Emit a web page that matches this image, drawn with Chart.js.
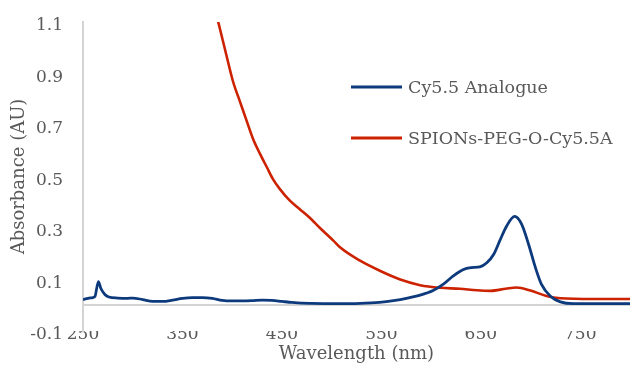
<!DOCTYPE html>
<html>
<head>
<meta charset="utf-8">
<script src="https://cdn.jsdelivr.net/npm/chart.js@4/dist/chart.umd.min.js"></script>
<style>
  html, body { margin: 0; padding: 0; background: #fff; }
  canvas { display: block; }
</style>
</head>
<body>
<canvas id="chart" width="634" height="368"></canvas>
<script>
/* UV-vis spectra */
var seriesNames = ['Cy5.5 Analogue', 'SPIONs-PEG-O-Cy5.5A'];

var cyNm  = [250, 255, 260, 262, 265.5, 268, 272, 276, 285, 295, 300, 310, 320, 330, 340, 350, 360, 370, 380, 390,
             400, 410, 420, 430, 440, 450, 460, 470, 480, 500, 520, 540, 555, 569, 589, 602, 612, 622, 632, 640,
             649, 656, 663, 669, 676, 684, 691, 698, 705, 711, 720, 730, 743, 800];
var cyAbs = [0.022, 0.027, 0.030, 0.034, 0.092, 0.065, 0.042, 0.032, 0.028, 0.027, 0.028, 0.022, 0.015, 0.015, 0.020, 0.027, 0.030, 0.030, 0.027, 0.019,
             0.017, 0.017, 0.018, 0.020, 0.019, 0.015, 0.011, 0.008, 0.007, 0.006, 0.006, 0.009, 0.014, 0.022, 0.039, 0.057, 0.081, 0.113, 0.138, 0.146,
             0.149, 0.165, 0.198, 0.250, 0.308, 0.345, 0.315, 0.237, 0.145, 0.081, 0.035, 0.013, 0.006, 0.006];

var spNm  = [375, 386, 395, 401, 408, 415, 421, 428, 435, 441, 448, 458, 468, 478, 488, 502, 509, 529, 549, 569,
             589, 609, 629, 646, 660, 675, 686, 700, 716, 730, 763, 800];
var spAbs = [1.26, 1.10, 0.958, 0.867, 0.789, 0.711, 0.646, 0.588, 0.535, 0.490, 0.451, 0.406, 0.373, 0.340, 0.301, 0.250, 0.223, 0.172, 0.133, 0.100,
             0.078, 0.068, 0.064, 0.058, 0.056, 0.064, 0.069, 0.057, 0.036, 0.027, 0.024, 0.024];

var xTicks = [250, 350, 450, 550, 650, 750];
var yTicks = [-0.1, 0, 0.1, 0.3, 0.5, 0.7, 0.9, 1.1];

var BLUE = '#0d3a7c', RED = '#cc2200', TXT = '#595959', AXIS = '#d4d4d4';
var FONT = 'DejaVu Serif';

function pts(xs, ys) { return xs.map(function (x, i) { return { x: x, y: ys[i] }; }); }

/* legend on the right side of the plot, drawn on the canvas */
var sideLegend = {
  id: 'sideLegend',
  afterDraw: function (chart) {
    var ctx = chart.ctx;
    ctx.save();
    ctx.font = '17.5px "' + FONT + '"';
    ctx.textBaseline = 'middle';
    ctx.textAlign = 'left';
    chart.data.datasets.forEach(function (ds, i) {
      var y = 87 + i * 51;
      ctx.strokeStyle = ds.borderColor;
      ctx.lineWidth = 3;
      ctx.beginPath(); ctx.moveTo(351, y); ctx.lineTo(402, y); ctx.stroke();
      ctx.fillStyle = TXT;
      ctx.fillText(ds.label, 408, y + 1);
    });
    ctx.restore();
  }
};

new Chart(document.getElementById('chart'), {
  type: 'line',
  data: {
    datasets: [
      { label: seriesNames[0], data: pts(cyNm, cyAbs), borderColor: BLUE, borderWidth: 2.8, pointRadius: 0, cubicInterpolationMode: 'monotone' },
      { label: seriesNames[1], data: pts(spNm, spAbs), borderColor: RED, borderWidth: 2.6, pointRadius: 0, cubicInterpolationMode: 'monotone' }
    ]
  },
  options: {
    responsive: false,
    animation: false,
    layout: { padding: { top: 22, right: 4, left: 0, bottom: 0 } },
    plugins: { legend: { display: false }, tooltip: { enabled: false } },
    scales: {
      x: {
        type: 'linear', min: 250, max: 800,
        afterBuildTicks: function (s) { s.ticks = xTicks.map(function (v) { return { value: v }; }); },
        afterFit: function (s) { s.height = 37; s.paddingLeft = 0; s.paddingRight = 0; },
        grid: { display: false, drawTicks: false },
        border: { display: false },
        ticks: { color: TXT, font: { family: FONT, size: 17 }, padding: -7, maxRotation: 0, autoSkip: false },
        title: { display: true, text: 'Wavelength (nm)', color: TXT, font: { family: FONT, size: 18 }, padding: { top: 0, bottom: 3 } }
      },
      y: {
        min: -0.1, max: 1.1,
        afterBuildTicks: function (s) { s.ticks = yTicks.map(function (v) { return { value: v }; }); },
        afterFit: function (s) { s.width = 83; s.paddingTop = 0; s.paddingBottom = 0; },
        grid: {
          drawTicks: false,
          color: function (c) { return c.tick && c.tick.value === 0 ? AXIS : 'rgba(0,0,0,0)'; },
          lineWidth: 2
        },
        border: { display: true, color: AXIS, width: 2 },
        ticks: {
          color: TXT, font: { family: FONT, size: 17 }, padding: 20, labelOffset: 4, autoSkip: false,
          callback: function (v) { return v === 0 ? '' : v.toFixed(1); }
        },
        title: { display: true, text: 'Absorbance (AU)', color: TXT, font: { family: FONT, size: 18 }, padding: { top: 9, bottom: 0 } }
      }
    }
  },
  plugins: [sideLegend]
});
</script>
</body>
</html>
